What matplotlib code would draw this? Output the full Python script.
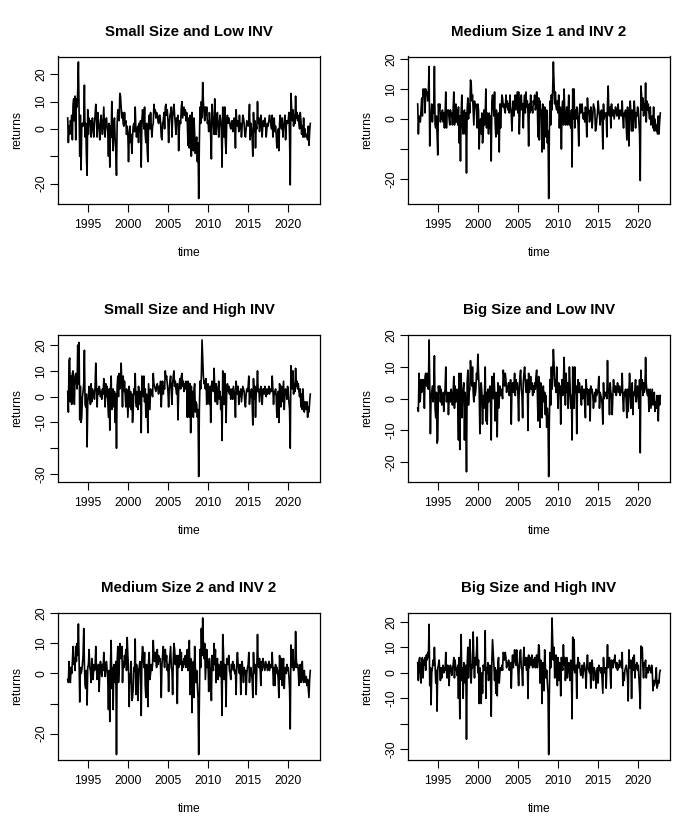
import numpy as np
import matplotlib
matplotlib.use("Agg")
import matplotlib.pyplot as plt
from matplotlib.ticker import MultipleLocator

plt.rcParams['font.family'] = ['Liberation Sans', 'DejaVu Sans']

# monthly returns (%), July 1992 .. October 2022, one row per year
small_low = [
    4, -5, 1, -2, 3, 2,
    5, -4, 9, 11, 3, 12, -4, 11, 8, 14, 24.5, 7,
    -10, 5, -15, 0, 2, 1, 3, 16, -3, 2, -10, -17,
    7, -2, 4, 2, 3, -3, 1, 4, 0, -3, 2, 5,
    9, 4, -3, 6, 2, 0, -4, 3, 5, 1, -2, 3,
    8, 0, -3, 3, 4, 1, -1, -10, 2, -14, 1, -3,
    10, -2, -8, 2, 4, -4, -8, -17, 2, 7, 5, 3,
    13, 12, 8, 4, 6, 2, 1, 6, 2, 3, -2, 1,
    -2, -12, -3, 1, -5, -2, -9, -3, 1, 2, -1, 8,
    0, -3, 0, 1, -5, 2, -1, 3, -14, 3, 7, 5,
    0, 8, -2, -5, 2, -8, -12, 2, 5, 0, 6, 1,
    -3, 1, 2, 9, 6, 7, 4, 6, 5, 3, 2, 5,
    5, 2, -3, -4, 2, 3, 6, 0, 8, 9, 5, 7,
    3, -5, 2, 5, 6, 8, -3, 4, 7, 9, 5, 2,
    -2, 4, 3, 5, -8, 0, 3, 2, 8, 10, 4, 6,
    8, 5, 7, 3, 6, 2, -6, 4, -7, 5, 1, -10,
    6, -5, -8, 4, -2, -9, -5, -3, -12, -5, -25.5, -5,
    8, 2, 10, 4, 17, 10, 6, 3, 8, 5, 8, 2,
    3, -1, 6, 3, -3, -11, 9, 4, 2, -2, 11, 3,
    -2, 4, 6, 1, -3, 2, 5, 3, -1, -14, 8, 0,
    -3, 8, -5, -9, 3, 5, 2, 4, 3, 1, 0, 2,
    3, -1, 0, 4, 2, -7, 7, 2, 1, 3, -1, 5,
    0, 2, -3, 1, 5, 4, 2, -2, -3, 0, 3, 2,
    1, 3, 9, -4, 2, 0, -3, -10, 6, -1, 3, -7,
    1, 0, 10, 2, 4, -1, 1, 5, 3, -3, 2, 3,
    1, 4, 2, -3, 0, 2, 1, 3, 5, 3, 2, 0,
    5, -3, 2, 4, -1, 1, -2, -7, -3, 0, -8, 2,
    5, 2, 0, 4, -3, 1, 2, 5, -4, 1, 3, 2,
    3, 6, -3, -20.5, 13, 8, 3, 7, 1, 5, 2, 12,
    4, 6, 3, 5, 2, 0, 6, 3, -2, 1, -3, 4,
    -3, 0, -2, -3, -2, -4, 1, -6, -1, 2,
]

medium1_inv2 = [
    5, -5, 1, 0, -1, 3,
    7, 1, 10, 8, 10, 2, 10, 9, 9, 6, 9, 17.5,
    -9, 0, 2, 5, -1, 3, 2, 17.5, -2, -3, 1, -5,
    -12, 5, 3, 5, -1, 2, 0, 3, -1, 2, -3, 2,
    9, -3, 2, 3, 3, 0, -2, 3, 1, 2, -2, 3,
    9, -2, 0, 5, -1, 3, -2, 4, -8, 1, -14, 2,
    8, -2, -5, 2, 3, -5, 2, -18, 3, 7, 0, 5,
    2, 13, 12, 6, 8, 3, -2, 6, 4, 5, 2, -3,
    5, 3, -10, -1, 0, -5, 2, -8, -5, 3, -2, 1,
    10, -3, 2, 0, -5, 2, -3, 1, -14, 6, 8, 5,
    1, 9, -2, -6, 3, -1, -5, 2, -11, 5, -3, 3,
    8, 7, 4, 5, 3, 2, 8, 4, 6, 3, 5, 2,
    8, 4, 2, -4, 3, 6, 1, 5, 8, 3, 6, 9,
    2, 9, -5, 2, 7, 8, 3, 5, -3, 5, 8, 2,
    9, 4, 6, 2, -9, 5, 2, 8, 3, 4, 2, 6,
    5, 8, 3, 4, 9, 5, -6, 7, -7, 6, 2, 3,
    -11, 5, 2, -10, 4, -2, -6, 3, -8, -4, -26.5, -4,
    6, -2, 8, 3, 10, 19, 12, 5, 9, 4, 3, 6,
    2, 8, -3, 4, 3, -10, 4, 6, -2, 10, 3, -2,
    1, 4, -2, 2, 8, -2, 1, -3, 3, -16, 10, 0,
    10, -3, 3, 0, 4, 2, -2, -9, 3, 5, 2, 4,
    5, 1, 0, 2, -1, 4, 1, -6, 7, 2, 3, -1,
    0, 4, 2, -3, 1, 5, 4, 3, -4, -3, 0, 2,
    6, 3, 1, -2, 2, 3, 0, -10, 5, 0, 2, 1,
    2, -6, 5, 11, 2, 1, 4, -3, 5, 2, 1, 3,
    0, 2, 4, 3, 1, 2, 5, 0, 1, 3, 2, 1,
    6, 0, -3, 2, 1, 3, -2, -7, 4, 0, -9, 2,
    6, 2, -4, 3, -4, 0, 6, 2, -3, 2, 1, 4,
    3, -1, -5, -20.5, 11, 8, 3, 7, 1, 5, 2, 12,
    -1, 6, 3, 5, 2, 0, 4, -2, -1, 1, -3, 4,
    -4, 0, -2, -4, -2, -5, 1, -5, -1, 2,
]

small_high = [
    2, -6, 14, 15, -2, 8,
    -3, 9, 10, 2, -3, 8, 9, 6, 3, 20, 5, 21,
    -9, 4, -10, -8, 0, 2, 5, 18, -3, -4, 1, -19.5,
    -2, 0, 4, 1, -3, 5, -2, 3, 1, 2, -1, 4,
    13, 5, -4, 3, 1, 4, 3, 0, 2, -1, 3, 1,
    7, 2, -4, 5, 0, 4, -2, -8, 3, -13, 2, 8,
    -5, -2, 3, -4, 2, -10, 1, -20, 4, 8, 0, 9,
    3, 5, 13, 5, -4, 8, 2, 6, 1, -4, 3, 2,
    -8, -2, 4, -4, 2, -5, 1, -10, -5, 3, 1, 9,
    -2, -4, 2, -5, 4, 1, -3, 2, -14, 8, 7, 0,
    8, -2, 3, -8, 1, -4, -14, 5, 0, -5, 3, 1,
    2, 0, 9, 5, 4, 3, 2, 4, 5, 3, 1, 4,
    2, 6, -4, 3, 6, 1, 4, 3, 10, 7, 8, 5,
    2, -4, 3, 6, 8, 2, -3, 5, 8, 10, 4, 6,
    3, 1, 5, -9, 2, 5, 7, 3, 8, 9, 4, 6,
    2, 5, 3, 6, 4, -8, 6, 5, -8, 5, -14, 4,
    -6, 2, -8, 3, 5, -6, -2, -3, -8, -5, -31, -5,
    6, 3, 8, 22, 15, 8, 5, 6, 3, 7, -3, 4,
    5, 2, -3, 4, -10, 4, 6, 3, 2, 11, 3, -2,
    5, 3, -3, 2, 6, -1, 2, -5, 0, -17, 10, 0,
    -3, 9, 2, -10, 3, 5, 2, 4, 1, 3, -1, 2,
    3, -1, 4, 2, 0, -8, 6, 3, 1, 4, -3, 2,
    0, 3, -2, 1, 4, 3, 2, -2, -4, 1, 3, 2,
    4, 8, -3, 2, 0, 3, -2, -11, 7, -1, 4, -8,
    1, 3, 10, 2, 3, -2, 1, 4, 3, -3, 2, 3,
    1, 4, 2, 0, 3, 1, 2, 4, 1, 2, 3, 2,
    8, 3, -3, 2, 1, 3, 0, -8, 1, 2, -10, 5,
    3, -4, 4, -2, 2, 6, -5, 1, 3, 2, -1, 4,
    2, -2, -5, -20, 12, 9, 3, 10, 1, 5, 2, 11,
    4, 6, 3, 5, 2, 0, 3, -4, 1, -5, 3, -3,
    -6, -2, -3, -5, -2, -8, -4, -6, -2, 1,
]

big_low = [
    -3, -4, 8, -1, 0, 6,
    2, 6, 3, 6, -3, 7, 8, 4, 8, 5, 3, 18.5,
    5, -11, 0, 2, 4, -1, 3, 13.5, -3, -6, 2, -14,
    -13, 4, 2, 4, -1, 3, -2, 0, 2, -4, 1, 3,
    10, -1, 1, 2, -5, 0, 2, -1, 3, 1, -2, 2,
    7, -3, 4, -1, 2, 3, -2, -13, 8, -16, 7, 8,
    -6, 0, 3, 5, -13, 2, -2, -23, 5, 9, -2, 2,
    3, 12, 7, 4, 10, 2, -1, 5, 1, 3, 8, 6,
    14, 8, 3, -11, 0, 5, 2, -8, 1, -3, 2, 10,
    -7, 2, -8, 3, -1, 2, 4, -2, -13, 7, 5, 0,
    8, 3, -7, 2, -2, -12, 5, -3, 0, 4, 1, 3,
    2, 0, 9, 7, 4, 8, 6, 2, 4, 3, 5, 1,
    3, 6, -8, 3, 5, 2, 4, 8, 1, 6, 3, 5,
    1, -7, 4, 7, 9, 3, 1, -6, 5, 8, 10, 6,
    2, 4, 6, -10, 8, 2, 4, 7, 3, 5, 1, 4,
    2, 5, 3, 7, 9, 2, -7, 7, 4, -9, 5, 3,
    -6, 2, 4, -1, 2, -5, 1, -9, -3, -7, -24.5, -7,
    6, -2, 10, 3, 8, 15.5, 11, 4, 6, 2, 10, 3,
    -3, 5, 2, 4, -8, 3, 6, 1, 5, 13, 5, -2,
    8, 2, 5, -3, 2, 10, 4, -3, 1, -13, 10, 0,
    -3, 10, 2, 4, -11, 3, 6, 2, 5, 3, 1, -2,
    4, 0, 2, 3, -2, -6, 6, 2, 3, -2, 0, 3,
    -7, 4, 2, 3, 1, -3, 0, 2, -1, 3, 1, 2,
    3, 7, -3, 2, 1, 0, -2, -8, 5, 0, 2, 1,
    2, 0, 12, 2, 3, -5, 5, 2, 1, -5, 1, 6,
    3, 2, 4, 1, 2, 5, 3, 2, 4, 1, 3, 2,
    8, 0, -4, 2, 1, 3, -1, -6, 3, -4, 2, 8,
    3, -3, 0, 5, -5, 2, 1, 3, 6, -1, 2, 4,
    1, -3, 6, -17, 9, 3, 6, 1, 5, 2, 3, 13,
    5, 2, 1, 3, -4, 2, 3, -3, 0, 3, -2, -1,
    2, -4, -1, -3, 1, -2, -7, 1, -2, 1,
]

medium2_inv2 = [
    -2, -3, 4, -2, -3, 2,
    0, 4, 9, 3, 5, 1, 9, 4, 10, 6, 16.5, 5,
    -9.5, 2, 0, 1, 3, 6, 15, 3, -4, -5, 1, -10.5,
    2, 3, 8, 2, 1, -3, 5, 0, -2, 3, 1, 2,
    9, 2, -2, 1, 3, -6, 0, 4, 2, -1, 3, 1,
    7, 2, -1, 3, 4, 1, -2, -12, 1, -16, 3, 11,
    -5, 2, -12, 3, 1, -3, 4, -27, 4, 9, -3, 1,
    10, 8, 5, 9, -3, 4, 2, 6, 3, 8, 1, 12,
    6, 2, -11, 0, -3, 4, -9, -8, -5, 2, 1, 11.5,
    -7, 3, 0, -9, 1, 2, 4, -3, -14, 5, 9, 6,
    2, 7, -4, -8, 3, -1, -11, 4, 7, -2, 0, 3,
    1, 3, 11, 6, 4, 7, 5, 2, 8, 3, 6, 4,
    5, 2, -8, 3, 6, 9, 5, 2, 8, 4, 6, 1,
    3, -6, 3, 6, 9, 2, 1, -7, 5, 10, 8, 3,
    6, 2, -10, 6, 2, 4, 8, 3, 7, 1, 4, 2,
    5, 3, 6, 2, 4, 8, 1, 3, 11, -7, 5, 2,
    -13, 2, 4, -8, 9, 2, -3, 1, -4, -8, -27, -8,
    8, 2, 15, 6, 18.5, 10, 5, 10, -2, 3, 8, 2,
    4, -6, 5, 2, 1, -9, 6, 3, 1, 10, 3, 8,
    -3, 2, 5, -2, 3, 1, -1, 4, -2, -14, 13, 8,
    -2, 3, 1, -11, 5, 4, 3, 6, 1, 0, -2, 3,
    2, 4, 1, 3, 0, 1, -7, 4, 7, 3, 1, 0,
    3, -7, 2, 4, 1, -3, 2, 0, 1, -7, 0, 2,
    3, 7, -3, 1, 2, 0, -2, -8, 7, 0, 3, 1,
    -7, 2, 13, 3, 2, 5, 1, -4, 4, 1, 5, 3,
    2, 1, 4, 2, 3, 1, 2, 4, 1, 2, 3, 2,
    7, 1, -4, 2, -4, 3, 0, 2, 1, -2, -8, 6,
    3, -2, 5, -4, 3, 5, -5, 1, 2, 0, 3, 1,
    2, -1, -5, -18.5, 9.5, 6, 2, 8, 1, 3, 2, 14,
    5, 2, 3, 1, -4, 2, 3, -3, 0, 4, -2, -3,
    1, -2, -3, -1, -4, -2, -5, -8, -2, 1,
]

big_high = [
    4, -3, 5, 6, 0, -4,
    4, 6, -2, 5, 3, 6, 1, 7, 5, 8, 6, 19,
    -5, 2, -12.5, 0, 2, 5, 3, 10, 3, -4, 1, -15,
    2, 3, 5, 1, -3, 2, -2, 1, 3, 0, 2, 1,
    8, 1, -2, 3, 0, -5, 2, 3, 1, -1, 2, 3,
    6, -2, 5, 1, 2, -1, 3, -10, 6, -18, 2, 15,
    -3, 2, -10, 4, 1, -4, 3, -26, 3, 10, -2, 4,
    13, 7, -4, 3, 2, 16, 5, -2, 6, 3, 8, 14,
    0, 5, -12, 2, -3, -12, 0, -8, 3, 2, 1, 16.5,
    -10, 2, 0, 4, -3, 1, 3, -2, -17, 5, 13, 8,
    3, -3, 2, -8, 1, -9, 4, 6, -4, 0, 2, 1,
    3, 1, 8, 7, 5, 8, 6, 2, 4, 3, 5, 1,
    2, 4, -6, 3, 7, 2, 5, 9, 5, 3, 9, 4,
    1, -5, 3, 8, 9, 2, 1, -5, 5, 10, 3, 6,
    4, 1, 6, -10, 7, 2, 4, 6, 3, 7, 2, 5,
    3, 6, 2, 4, 7, 2, 5, 11, 9, -4, 5, 3,
    -12, 4, 2, -7, 9, 3, -2, 1, -4, -8, -32, -8,
    8, 2, 6, 21.5, 12, 5, 10, -2, 5, 7, 3, -5,
    6, 2, -3, 4, -9, 6, 3, 1, 11, 3, 6, -3,
    2, 6, -2, 2, 4, 1, -3, 5, 0, -18, 14, 1,
    13, 0, 2, 3, -10, 3, 6, 2, 4, 1, -1, 0,
    3, -2, 1, 4, 2, 0, -6, 3, 7, 2, 1, 0,
    4, -6, 3, 5, 1, -3, 2, 1, -1, -6, 0, 2,
    -4, 3, 1, 2, 0, 2, -3, -8, 6, 0, 1, 2,
    -6, 3, 11, 2, 4, 6, 1, -6, 5, 3, 2, 5,
    4, 7, 3, 2, 4, 1, 3, 2, 5, 3, 4, 2,
    8, -5, 0, -3, 1, 2, 3, 1, -2, -11, 9, 2,
    3, 5, -10, 3, 6, 1, 7, -2, 3, 2, 4, 1,
    3, -2, -7, -14, 10.5, 6, 10, 2, -2, 4, 3, 5,
    -2, 1, 2, 0, 3, 1, 2, 0, 3, 1, -7, -3,
    -5, -4, -2, 2, -6, -5, -3, -4, 0, 1,
]

titles = ["Small Size and Low INV", "Medium Size 1 and INV 2",
          "Small Size and High INV", "Big Size and Low INV",
          "Medium Size 2 and INV 2", "Big Size and High INV"]
series = [small_low, medium1_inv2, small_high, big_low, medium2_inv2, big_high]
# y tick labels that R drops because they would overlap
hidden = [[-10], [-10], [-20], [], [-10], [-20]]

n = len(small_low)
time = 1992.5 + np.arange(n) / 12.0

fig = plt.figure(figsize=(6.98, 8.32), dpi=100)
lefts = [58 / 698, 408 / 698]
bottoms = [1 - 204 / 832, 1 - 482 / 832, 1 - 760 / 832]
w, h = 262 / 698, 147.5 / 832

for i, (vals, title) in enumerate(zip(series, titles)):
    ax = fig.add_axes([lefts[i % 2], bottoms[i // 2], w, h])
    ax.plot(time, vals, color='black', lw=1.2)
    ax.margins(x=0.04, y=0.04)
    ax.set_title(title, fontsize=10.8, fontweight='bold', pad=15)
    ax.set_xlabel("time", fontsize=8.7, labelpad=12)
    ax.set_ylabel("returns", fontsize=8.7, labelpad=9)
    ax.set_xticks([1995, 2000, 2005, 2010, 2015, 2020])
    ax.yaxis.set_major_locator(MultipleLocator(10))
    lo, hi = ax.get_ylim()
    yt = [t for t in range(-40, 41, 10) if lo <= t <= hi]
    ax.set_yticks(yt)
    ax.set_yticklabels(["" if t in hidden[i] else str(t) for t in yt])
    ax.tick_params(length=5.5, width=0.8, labelsize=8.7, direction='out')
    ax.tick_params(axis='x', pad=5)
    ax.tick_params(axis='y', pad=2, labelrotation=90)
    for lab in ax.get_yticklabels():
        lab.set_va('center')
    for sp in ax.spines.values():
        sp.set_linewidth(0.9)

fig.savefig("out.png", dpi=100)
